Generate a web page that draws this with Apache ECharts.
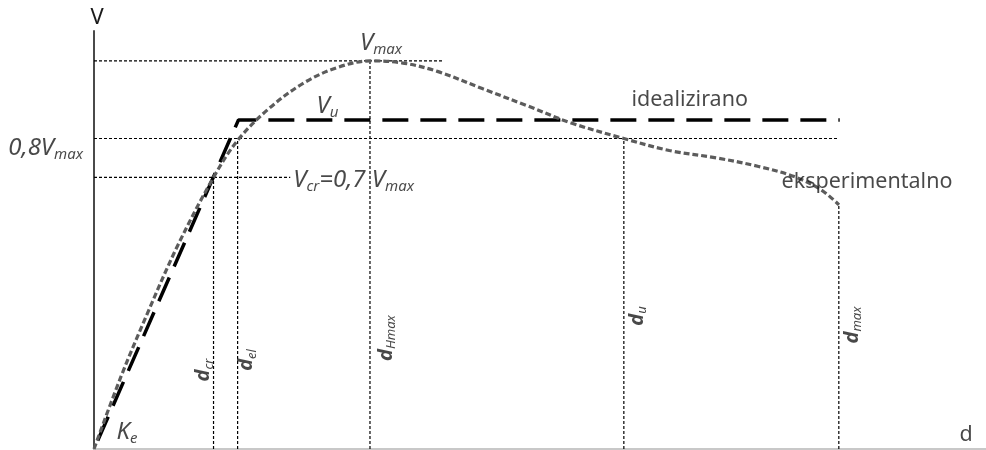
<!DOCTYPE html>
<html>
<head>
<meta charset="utf-8">
<script src="https://cdn.jsdelivr.net/npm/echarts@6/dist/echarts.min.js"></script>
<style>
html,body{margin:0;padding:0;background:#fff;}
#chart{width:986px;height:450px;}
</style>
</head>
<body>
<div id="chart"></div>
<script>
// ---- data (d in relative displacement units, V in % of Vmax) ----
const expD = [0, 3, 6, 9.4, 13.4, 16.1, 19.5, 23.5, 27.3, 30.94, 34.5, 38.5, 43.6, 48.5, 53.5, 59.4, 64.5, 69.8, 74.5, 78.5, 81.5, 83.52];
const expV = [0, 18.5, 35, 52.5, 70, 79.5, 87.5, 94.3, 98.3, 100, 99.5, 97.3, 92.8, 88.5, 84.0, 80, 76.9, 75.0, 72.8, 70.2, 66.8, 62.9];
const idealD = [0, 16.2, 83.6];
const idealV = [0, 84.8, 84.8];
const Vmax = 100, Vu = 84.8, V08 = 80, Vcr = 70, Vend = 62.9;
const dcr = 13.4, del = 16.1, dHmax = 30.94, du = 59.4, dmax = 83.5;
const hLineEnds = [39.1, 83.3, 22.0];       // ends of Vmax, 0.8Vmax, Vcr guide lines
const hLineLevels = [Vmax, V08, Vcr];
const vLineD = [dcr, del, dHmax, du, dmax];
const vLineTop = [Vcr, V08, Vmax, V08, Vend];
const xMax = 100, yMax = 107.7;

const FONT = 'Noto Sans';
const ink = '#1a1a1a';
const rich = {
  m: {fontFamily: FONT, fontStyle: 'italic', fontSize: 24, color: ink, lineHeight: 28},
  s: {fontFamily: FONT, fontStyle: 'italic', fontSize: 15, color: ink, lineHeight: 28, verticalAlign: 'bottom'},
  n: {fontFamily: FONT, fontSize: 21.5, color: ink, lineHeight: 26},
  dm: {fontFamily: FONT, fontStyle: 'italic', fontWeight: 'bold', fontSize: 20, color: ink, lineHeight: 24},
  ds: {fontFamily: FONT, fontStyle: 'italic', fontSize: 13, color: ink, lineHeight: 24, verticalAlign: 'bottom'}
};

const series = [];
// guide lines
hLineLevels.forEach((v, i) => {
  series.push({type: 'line', data: [[0, v], [hLineEnds[i], v]], symbol: 'none', silent: true, clip: false,
    lineStyle: {color: '#000', width: 1.2, type: [3, 2]}, z: 2});
});
vLineD.forEach((d, i) => {
  series.push({type: 'line', data: [[d, 0], [d, vLineTop[i]]], symbol: 'none', silent: true, clip: false,
    lineStyle: {color: '#000', width: 1.2, type: [3, 2]}, z: 2});
});
// idealized
series.push({type: 'line', data: idealD.map((d, i) => [d, idealV[i]]), symbol: 'none', clip: false,
  lineStyle: {color: '#000', width: 3.5, type: [26, 12], dashOffset: 28.7}, z: 4});
// experimental
series.push({type: 'line', data: expD.map((d, i) => [d, expV[i]]), symbol: 'none', clip: false,
  smooth: 0.35,
  lineStyle: {color: '#5c5c5c', width: 3.2, type: [6, 3]}, z: 5});

// annotations (rotated labels: offset is given in the label's rotated frame)
function ann(pt, text, offset, extra) {
  return {value: pt, label: Object.assign({show: true, formatter: text, offset: offset,
    position: 'inside', align: 'center', verticalAlign: 'middle', rich: rich}, extra || {})};
}
const annData = [
  ann([dHmax, Vmax], '{m|V}{s|max}', [11, -18]),
  ann([idealD[1], Vu], '{m|V}{s|u}', [89, -14]),
  ann([idealD[2], Vu], '{n|idealizirano}', [-150, -20]),
  ann([expD[expD.length - 1], Vend], '{n|eksperimentalno}', [28, -23]),
  ann([0, V08], '{m|0,8V}{s|max}', [-11, 10], {align: 'right'}),
  ann([hLineEnds[2], Vcr], '{m|V}{s|cr}{m|=0,7 V}{s|max}', [3, 3], {align: 'left'}),
  ann([0, 0], '{m|K}{s|e}', [33, -17]),
  ann([dcr, 0], '{dm|d}{ds|cr}', [79, -10], {rotate: 90}),
  ann([del, 0], '{dm|d}{ds|el}', [89, 9], {rotate: 90}),
  ann([dHmax, 0], '{dm|d}{ds|Hmax}', [111, 16], {rotate: 90}),
  ann([du, 0], '{dm|d}{ds|u}', [133, 13], {rotate: 90}),
  ann([dmax, 0], '{dm|d}{ds|max}', [124, 13], {rotate: 90}),
  ann([xMax, 0], '{n|d}', [-20, -14])
];
series.push({type: 'scatter', data: annData, symbolSize: 0, silent: true, clip: false, z: 10});

const chart = echarts.init(document.getElementById('chart'), null, {renderer: 'canvas'});
chart.setOption({
  animation: false,
  backgroundColor: '#fff',
  grid: {left: 94, right: 0, top: 31, bottom: 1, containLabel: false},
  xAxis: {type: 'value', min: 0, max: xMax,
    axisLine: {show: true, onZero: false, lineStyle: {color: '#c8c8c8', width: 2}},
    axisTick: {show: false}, axisLabel: {show: false}, splitLine: {show: false}},
  yAxis: {type: 'value', min: 0, max: yMax, name: 'V', nameLocation: 'end', nameGap: 2,
    nameTextStyle: {fontFamily: FONT, fontSize: 22, color: ink, align: 'center', verticalAlign: 'bottom', padding: [0, 0, 0, 6]},
    axisLine: {show: true, onZero: false, lineStyle: {color: '#4a4a4a', width: 2}},
    axisTick: {show: false}, axisLabel: {show: false}, splitLine: {show: false}},
  series: series
});
</script>
</body>
</html>
